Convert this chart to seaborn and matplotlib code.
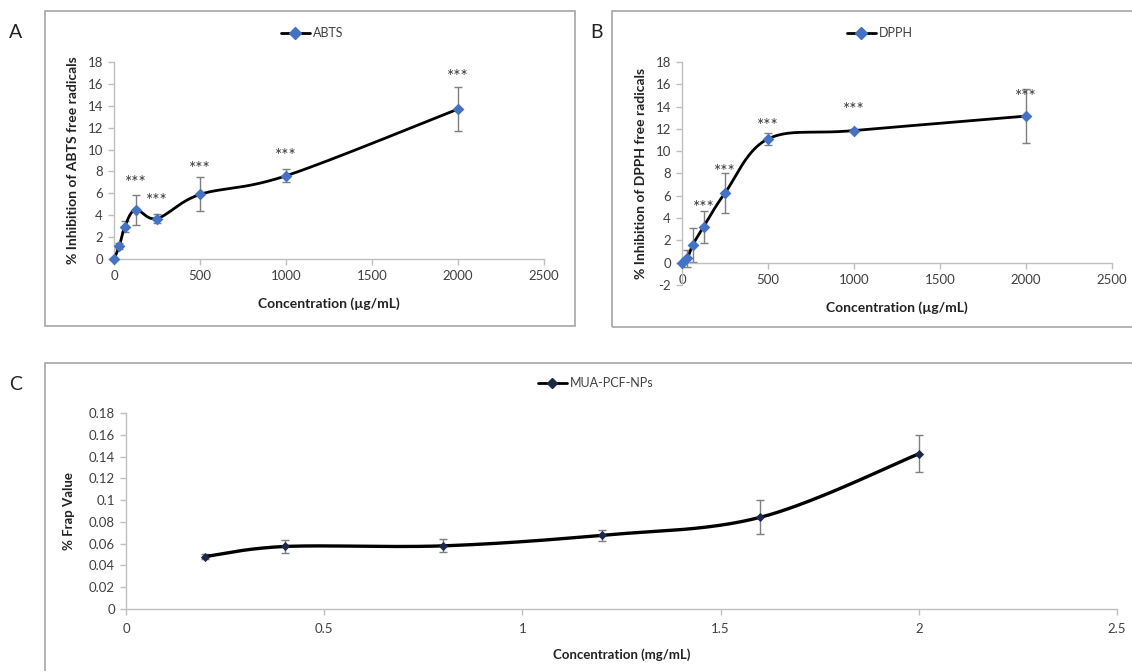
import numpy as np
import matplotlib
matplotlib.use("Agg")
import matplotlib.pyplot as plt
from matplotlib.lines import Line2D
from matplotlib.patches import Rectangle
import seaborn as sns

# ---------------- data ----------------
conc_ug = [0, 31.25, 62.5, 125, 250, 500, 1000, 2000]

abts_val = [0, 1.2, 2.95, 4.5, 3.7, 5.9, 7.6, 13.7]
abts_err = [0, 0.25, 0.5, 1.35, 0.4, 1.55, 0.6, 2.05]
abts_star = [None, None, None, 6.95, 5.3, 8.2, 9.45, 16.6]

dpph_val = [0, 0.4, 1.6, 3.2, 6.25, 11.1, 11.85, 13.15]
dpph_err = [0, 0.75, 1.5, 1.4, 1.8, 0.5, 0.15, 2.45]
dpph_star = [None, None, None, 4.9, 8.1, 12.3, 13.7, 14.9]

conc_mg = [0.2, 0.4, 0.8, 1.2, 1.6, 2.0]
frap_val = [0.0482, 0.0574, 0.058, 0.0677, 0.0842, 0.1425]
frap_err = [0.002, 0.006, 0.006, 0.005, 0.0155, 0.017]

ab_xticks = [0, 500, 1000, 1500, 2000, 2500]
a_yticks = [0, 2, 4, 6, 8, 10, 12, 14, 16, 18]
b_yticks = [-2, 0, 2, 4, 6, 8, 10, 12, 14, 16, 18]
c_xticks = [0, 0.5, 1, 1.5, 2, 2.5]
c_yticks = [0, 0.02, 0.04, 0.06, 0.08, 0.1, 0.12, 0.14, 0.16, 0.18]

# ---------------- style ----------------
sns.set_style("white")
plt.rcParams["font.family"] = ["Lato", "DejaVu Sans"]

W, H = 1132, 671
fig = plt.figure(figsize=(W / 100, H / 100), dpi=100)

AX_GRAY = "#bfbfbf"
TXT_GRAY = "#404040"
BOX_GRAY = "#a6a6a6"
BLUE = "#4472C4"
NAVY = "#1c2a48"


def smooth(xs, ys, n=40):
    """Excel-like smoothed line (cubic Bezier through the points)."""
    P = np.column_stack([xs, ys]).astype(float)
    m = len(P)
    out = []
    t = np.linspace(0, 1, n)[:, None]
    for i in range(m - 1):
        p0 = P[i - 1] if i > 0 else P[i]
        p1 = P[i]
        p2 = P[i + 1]
        p3 = P[i + 2] if i + 2 < m else P[i + 1]
        c1 = p1 + (p2 - p0) / 6.0
        c2 = p2 - (p3 - p1) / 6.0
        seg = ((1 - t) ** 3) * p1 + 3 * ((1 - t) ** 2) * t * c1 + 3 * (1 - t) * t ** 2 * c2 + t ** 3 * p2
        out.append(seg if i == 0 else seg[1:])
    S = np.vstack(out)
    return S[:, 0], S[:, 1]


def px_axes(l, r, b, t):
    return fig.add_axes([l / W, 1 - b / H, (r - l) / W, (b - t) / H])


def box(x0, y0, x1, y1):
    fig.add_artist(Rectangle((x0 / W, 1 - y1 / H), (x1 - x0) / W, (y1 - y0) / H,
                             transform=fig.transFigure, fill=False,
                             edgecolor=BOX_GRAY, lw=1.2, clip_on=False))


def style_axes(ax, xticks, yticks, xlim, ylim):
    ax.set_xlim(*xlim)
    ax.set_ylim(*ylim)
    ax.set_xticks(xticks)
    ax.set_yticks(yticks)
    ax.set_xticklabels([("%g" % v) for v in xticks])
    ax.set_yticklabels([("%g" % v) for v in yticks])
    for s in ["top", "right"]:
        ax.spines[s].set_visible(False)
    for s in ["left", "bottom"]:
        ax.spines[s].set_color(AX_GRAY)
        ax.spines[s].set_linewidth(1.0)
    ax.tick_params(axis="both", which="major", direction="out", length=4,
                   width=1.0, color=AX_GRAY, labelsize=9.5, labelcolor=TXT_GRAY,
                   bottom=True, left=True, pad=4)
    ax.set_facecolor("none")
    ax.grid(False)


def draw_series(ax, xs, ys, es, mcolor, ms=36, lw=2.0):
    sx, sy = smooth(xs, ys)
    sns.lineplot(x=sx, y=sy, ax=ax, color="black", lw=lw, sort=False,
                 estimator=None, legend=False, zorder=3, clip_on=False)
    ax.errorbar(xs, ys, yerr=es, fmt="none", ecolor="#7f7f7f", elinewidth=1.0,
                capsize=3, capthick=1.0, zorder=2)
    sns.scatterplot(x=xs, y=ys, ax=ax, marker="D", s=ms, color=mcolor,
                    edgecolor=mcolor, linewidth=0, legend=False, zorder=4,
                    clip_on=False)


def stars(ax, xs, ys):
    for x, y in zip(xs, ys):
        if y is not None:
            ax.text(x, y, "***", ha="center", va="center", fontsize=12.5,
                    color="#3a3a3a", zorder=5)


def legend_at(ax, x, y, label, mcolor, ms=6):
    h = Line2D([], [], color="black", lw=2, marker="D", markersize=ms,
               markerfacecolor=mcolor, markeredgecolor=mcolor)
    leg = ax.legend([h], [label], loc="center left",
                    bbox_to_anchor=(x / W, 1 - y / H),
                    bbox_transform=fig.transFigure, frameon=False,
                    borderpad=0, borderaxespad=0, handlelength=2.3,
                    handletextpad=0.25, fontsize=9)
    for t in leg.get_texts():
        t.set_color(TXT_GRAY)


# ---------------- boxes ----------------
box(45, 11, 575, 326)
box(612, 11, 1145, 327)
box(45, 363, 1145, 690)

fig.text(16 / W, 1 - 33 / H, "A", fontsize=14, ha="center", va="center", color="#222222")
fig.text(596 / W, 1 - 33 / H, "B", fontsize=14, ha="center", va="center", color="#222222")
fig.text(16 / W, 1 - 385 / H, "C", fontsize=14, ha="center", va="center", color="#222222")

# ---------------- panel A ----------------
axA = px_axes(114, 544, 259, 62)
draw_series(axA, conc_ug, abts_val, abts_err, BLUE)
stars(axA, conc_ug, abts_star)
style_axes(axA, ab_xticks, a_yticks, (0, 2500), (0, 18))
axA.set_xlabel("Concentration (µg/mL)", fontsize=10, fontweight="bold", color="#222222", labelpad=11)
axA.set_ylabel("% Inhibition of ABTS free radicals", fontsize=10, fontweight="bold", color="#222222", labelpad=6)
legend_at(axA, 281, 33, "ABTS", BLUE)

# ---------------- panel B ----------------
axB = px_axes(682, 1112, 285, 62)
draw_series(axB, conc_ug, dpph_val, dpph_err, BLUE)
stars(axB, conc_ug, dpph_star)
style_axes(axB, ab_xticks, b_yticks, (0, 2500), (-2, 18))
axB.spines["bottom"].set_position(("data", 0))
axB.set_xlabel("Concentration (µg/mL)", fontsize=10, fontweight="bold", color="#222222", labelpad=11)
axB.set_ylabel("% Inhibition of DPPH free radicals", fontsize=10, fontweight="bold", color="#222222", labelpad=6)
legend_at(axB, 847, 33, "DPPH", BLUE)

# ---------------- panel C ----------------
axC = px_axes(126, 1117, 609, 413)
draw_series(axC, conc_mg, frap_val, frap_err, NAVY, ms=22, lw=2.4)
style_axes(axC, c_xticks, c_yticks, (0, 2.5), (0, 0.18))
axC.tick_params(axis="x", pad=6)
axC.set_xlabel("Concentration (mg/mL)", fontsize=9.5, fontweight="bold", color="#222222", labelpad=10)
axC.set_ylabel("% Frap Value", fontsize=9.5, fontweight="bold", color="#222222", labelpad=10)
legend_at(axC, 538, 383, "MUA-PCF-NPs", NAVY, ms=5)

fig.savefig("out.png", dpi=100, facecolor="white")
